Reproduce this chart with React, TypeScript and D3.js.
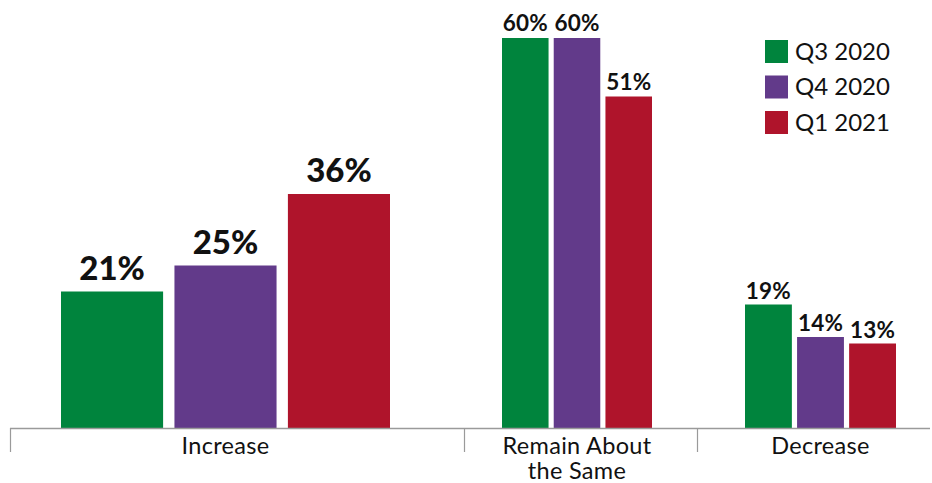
import React from "react";
import * as d3 from "d3";

const categories = ["Increase", "Remain About the Same", "Decrease"];
const categoryLines = [["Increase"], ["Remain About", "the Same"], ["Decrease"]];
const series = ["Q3 2020", "Q4 2020", "Q1 2021"];
const q3_2020 = [21, 60, 19];
const q4_2020 = [25, 60, 14];
const q1_2021 = [36, 51, 13];
const seriesValues = [q3_2020, q4_2020, q1_2021];
const colors = ["#00843D", "#623A8A", "#AF142B"];

// layout
const W = 932;
const H = 483;
const baseY = 428;
const groupEdges = [10, 464, 697, 930];
const barRanges: [number, number][] = [
  [61, 390],
  [502, 652],
  [745, 896],
];
const labelSizes = [33, 22.5, 22.5];
const labelGaps = [12, 7, 6];
const FONT = "Lato, 'Open Sans', sans-serif";

export default function App() {
  const y = d3.scaleLinear().domain([0, 60]).range([baseY, 38]);
  return (
    <svg
      width={W}
      height={H}
      style={{ position: "absolute", left: 0, top: 0, background: "#fff" }}
      fontFamily={FONT}
    >
      {categories.map((cat, ci) => {
        const xb = d3
          .scaleBand<string>()
          .domain(series)
          .range(barRanges[ci])
          .paddingInner(0.1);
        return (
          <g key={cat}>
            {series.map((s, si) => {
              const v = seriesValues[si][ci];
              const x = xb(s)!;
              return (
                <g key={s}>
                  <rect
                    x={x}
                    y={y(v)}
                    width={xb.bandwidth()}
                    height={baseY - y(v)}
                    fill={colors[si]}
                  />
                  <text
                    x={x + xb.bandwidth() / 2}
                    y={y(v) - labelGaps[ci]}
                    textAnchor="middle"
                    fontSize={labelSizes[ci]}
                    fontWeight={ci === 0 ? 900 : 700}
                    letterSpacing={ci === 0 ? 0 : 0.2}
                    fill="#111"
                  >
                    {v}%
                  </text>
                </g>
              );
            })}
            {categoryLines[ci].map((line, li) => (
              <text
                key={li}
                x={(barRanges[ci][0] + barRanges[ci][1]) / 2}
                y={454 + li * 25}
                textAnchor="middle"
                fontSize={23.5}
                letterSpacing={0.3}
                fill="#111"
              >
                {line}
              </text>
            ))}
          </g>
        );
      })}
      <line x1={groupEdges[0]} x2={groupEdges[3]} y1={baseY + 0.5} y2={baseY + 0.5} stroke="#9a9a9a" strokeWidth={1.5} />
      {groupEdges.slice(0, 3).map((gx, i) => (
        <line key={i} x1={gx + 0.5} x2={gx + 0.5} y1={baseY} y2={452} stroke="#9a9a9a" strokeWidth={1.2} />
      ))}
      {series.map((s, si) => (
        <g key={s} transform={`translate(765, ${40 + si * 35.5})`}>
          <rect width={23} height={23} fill={colors[si]} />
          <text x={30} y={19.5} fontSize={24} fill="#111">
            {s}
          </text>
        </g>
      ))}
    </svg>
  );
}
